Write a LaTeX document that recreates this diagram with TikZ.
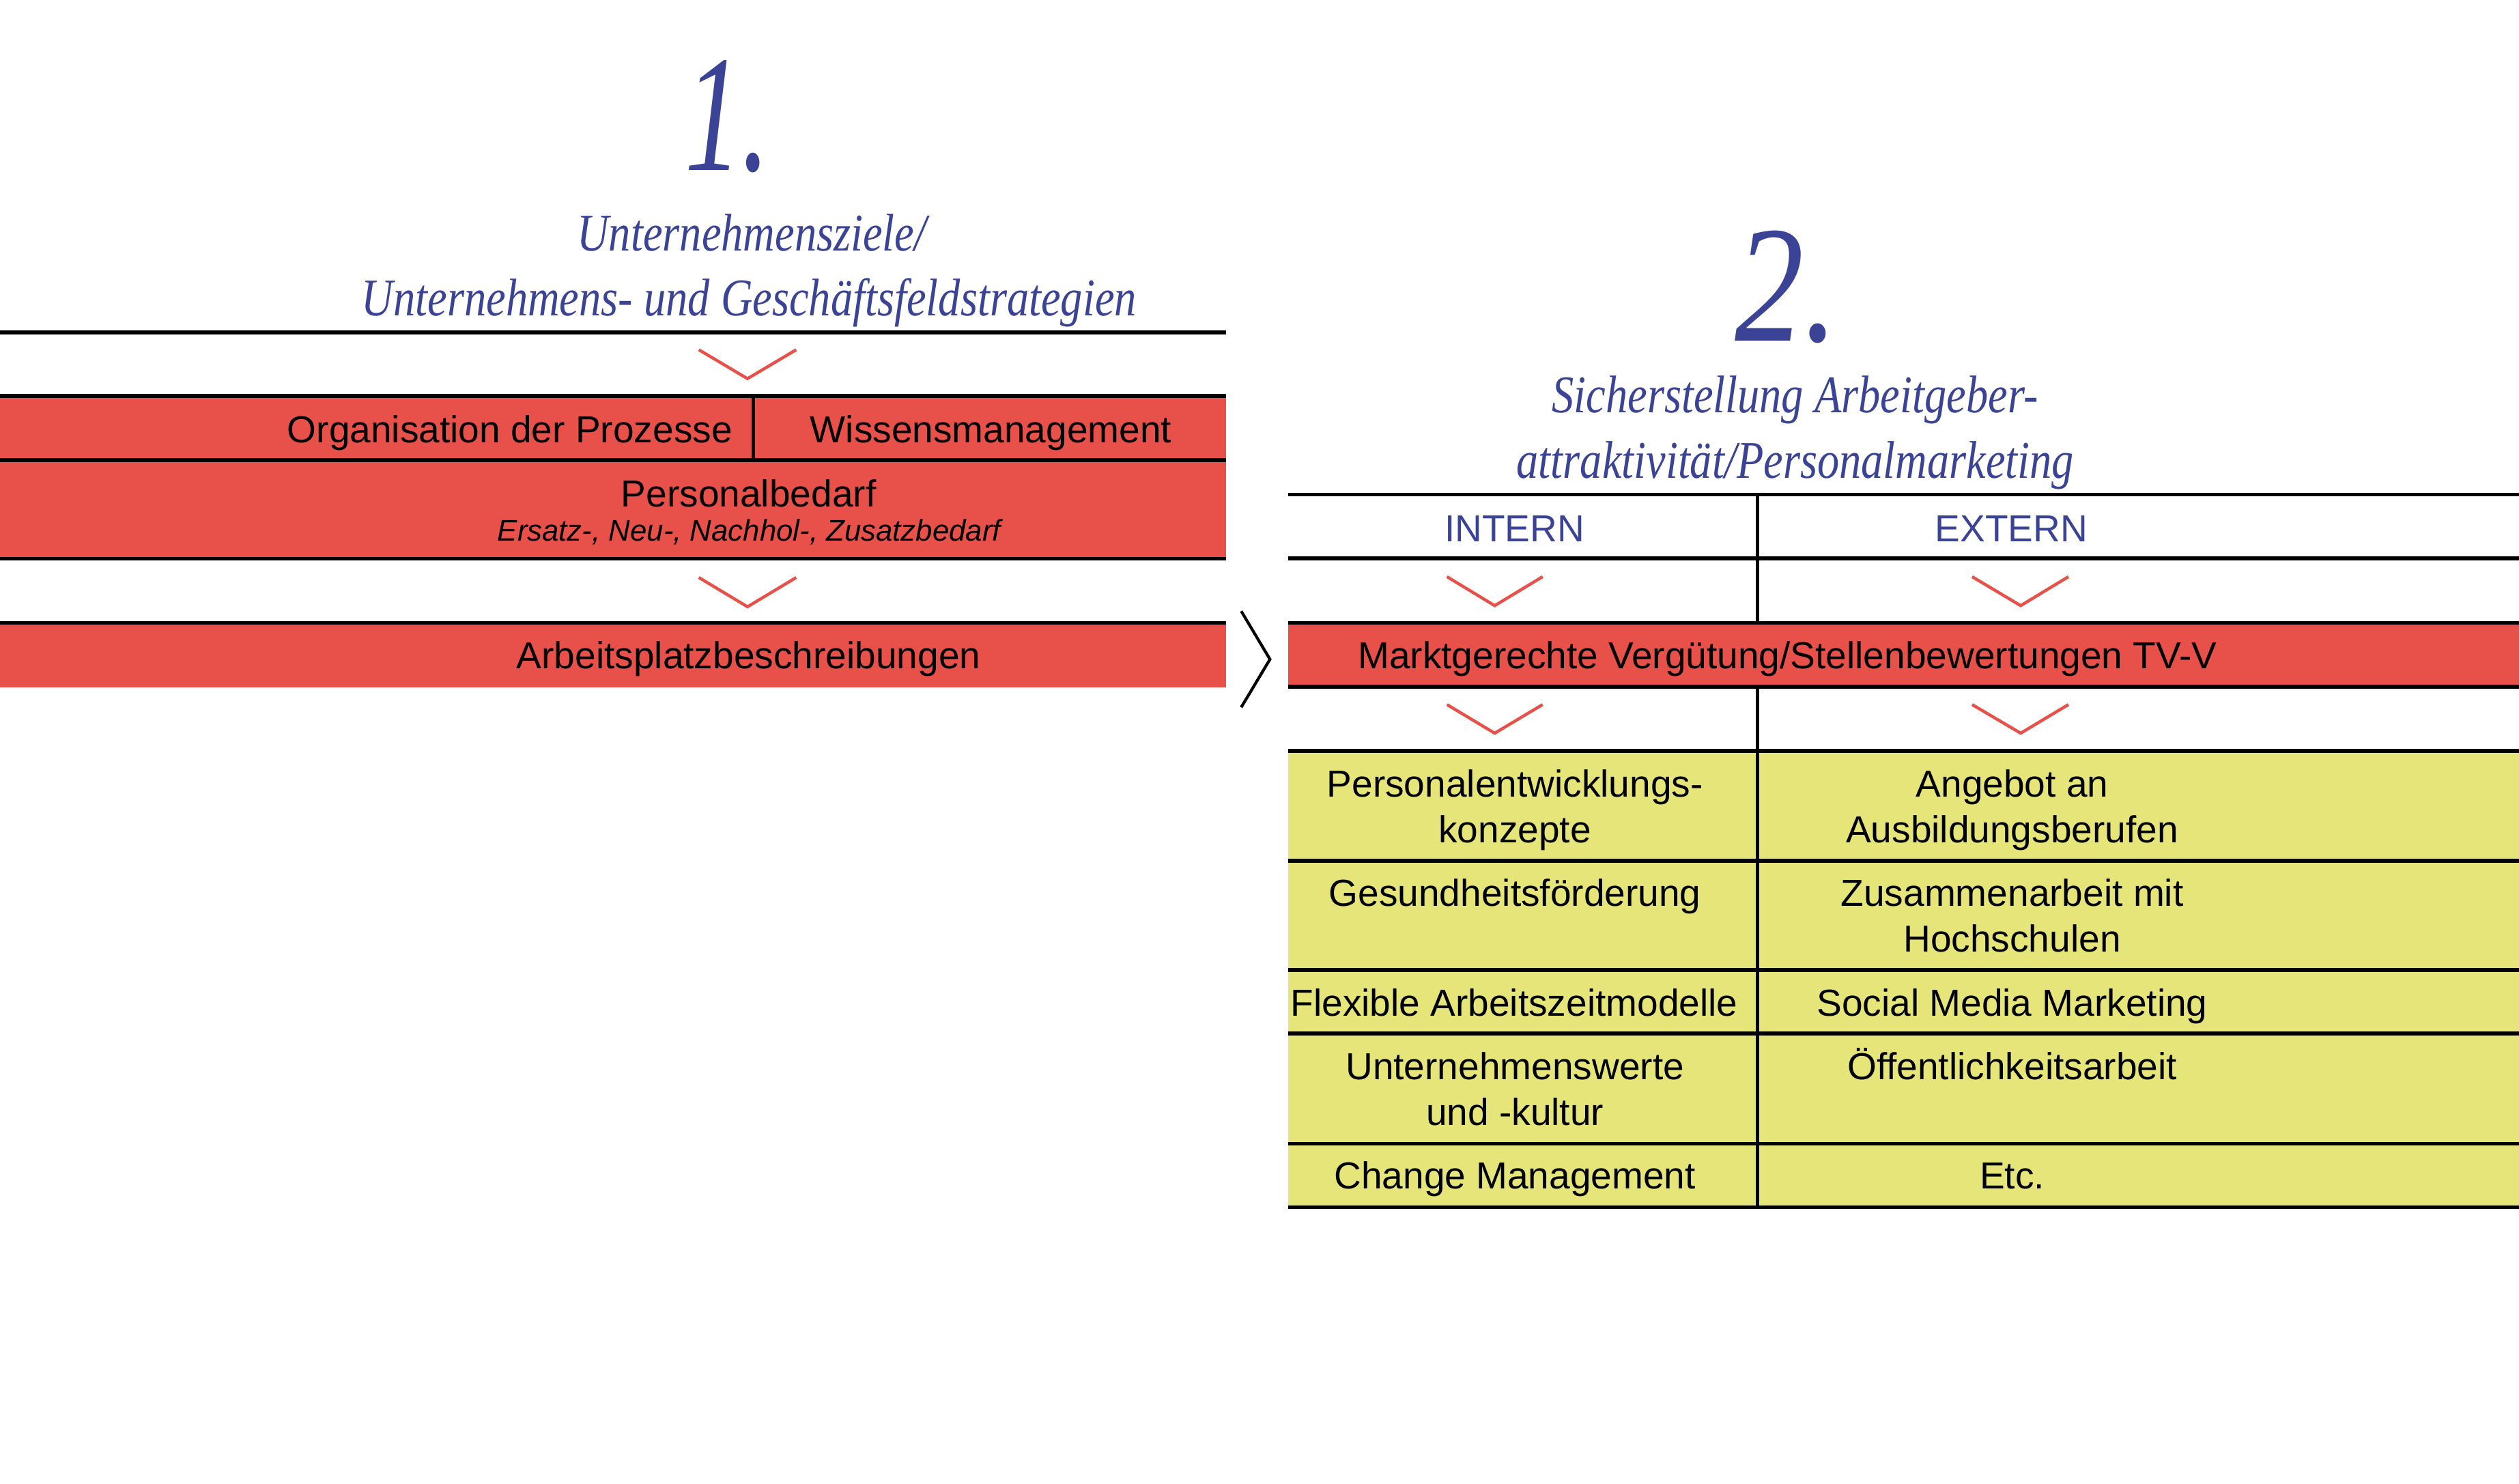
\documentclass[tikz,border=0pt]{standalone}
\usepackage{fontspec}
\setmainfont{Liberation Sans}
\newfontfamily\headfont[FakeStretch=0.83]{Liberation Serif}
\newfontfamily\narrowheadfont[FakeStretch=0.68]{Liberation Serif}
\definecolor{bandred}{RGB}{232,81,73}
\definecolor{bandyellow}{RGB}{230,229,122}
\definecolor{headblue}{RGB}{58,67,149}
\newcommand{\cellfont}{\fontsize{11.7}{14.25}\selectfont}
\newcommand{\subfont}{\fontsize{9.3}{11}\selectfont\itshape}
\newcommand{\headlinefont}{\headfont\itshape\fontsize{16.5}{20}\selectfont}
\newcommand{\numfont}{\headfont\itshape\fontsize{51.8}{60}\selectfont}
\newcommand{\numfontnarrow}{\narrowheadfont\itshape\fontsize{51.8}{60}\selectfont}
\newcommand{\twolines}[2]{\begin{tabular}[t]{@{}c@{}}#1\\#2\end{tabular}}

\begin{document}
\begin{tikzpicture}[x=0.5pt,y=-0.5pt,
  rule/.style={line width=1.2pt,draw=black},
  divider/.style={line width=1.05pt,draw=black},
  chev/.style={draw=bandred,line width=0.95pt},
  bigchev/.style={draw=black,line width=0.9pt},
  txt/.style={inner sep=0pt,anchor=base,font=\cellfont,text=black},
  bluetxt/.style={txt,text=headblue},
  subtxt/.style={inner sep=0pt,anchor=base,font=\subfont,text=black},
  headtxt/.style={inner sep=0pt,anchor=base,font=\headlinefont,text=headblue},
  numtxt/.style={inner sep=0pt,anchor=base,font=\numfont,text=headblue}]

\useasboundingbox (0,0) rectangle (1568,923.4);

% ---------- left block ----------
\node[numtxt,font=\numfontnarrow] (n1) at (453,105.9) {1.};
\node[headtxt] (h1a) at (468,156) {Unternehmensziele/};
\node[headtxt] (h1b) at (466.3,196.4) {Unternehmens- und Geschäftsfeldstrategien};

\fill[bandred] (0,246.5) rectangle (763,347.8);
\fill[bandred] (0,387.7) rectangle (763,427.8);
\draw[rule] (0,207) -- (763,207);
\draw[rule] (0,246.5) -- (763,246.5);
\draw[rule] (0,286.3) -- (763,286.3);
\draw[rule] (0,347.8) -- (763,347.8);
\draw[rule] (0,387.7) -- (763,387.7);
\draw[divider] (468.8,246.5) -- (468.8,286.3);

\draw[chev] (435,217.7) -- (465.3,235.7) -- (495.6,217.7);
\draw[chev] (435,359.5) -- (465.3,377.7) -- (495.6,359.5);

\node[txt,anchor=base east] (org) at (456.3,275.5) {Organisation der Prozesse};
\node[txt] (wis) at (616.8,275.5) {Wissensmanagement};
\node[txt] (pb) at (466,315.4) {Personalbedarf};
\node[subtxt] (pbs) at (466.3,336.8) {Ersatz-, Neu-, Nachhol-, Zusatzbedarf};
\node[txt] (apb) at (466,416.2) {Arbeitsplatzbeschreibungen};

\draw[bigchev] (772.6,380.4) -- (790.5,410.4) -- (772.6,440.3);

% ---------- right block ----------
\node[numtxt] (n2) at (1112,212.2) {2.};
\node[headtxt] (h2a) at (1117.5,257) {Sicherstellung Arbeitgeber-};
\node[headtxt] (h2b) at (1117.5,297.5) {attraktivität/Personalmarketing};

\fill[bandred] (802,387.8) rectangle (1568,427.6);
\fill[bandyellow] (802,467.4) rectangle (1568,751.5);
\foreach \yy in {307.8,347.5,387.8,427.6,467.4,535.7,603.8,643.4,711.9,751.5}
  \draw[rule] (802,\yy) -- (1568,\yy);
\draw[divider] (1094,307.8) -- (1094,387.8);
\draw[divider] (1094,427.6) -- (1094,751.5);

\node[bluetxt] (intern) at (942.7,337.3) {INTERN};
\node[bluetxt] (extern) at (1252,337.3) {EXTERN};

\draw[chev] (900.7,359) -- (930.4,377) -- (960.2,359);
\draw[chev] (1227.6,359) -- (1257.8,377) -- (1287.5,359);
\draw[chev] (900.7,438.6) -- (930.4,456.4) -- (960.2,438.6);
\draw[chev] (1227.6,438.6) -- (1257.8,456.4) -- (1287.5,438.6);

\node[txt] (mv) at (1112.6,416) {Marktgerechte Vergütung/Stellenbewertungen TV-V};

\node[txt] (r1l) at (943,496) {\twolines{Personalentwicklungs-}{konzepte}};
\node[txt] (r1r) at (1252.5,496) {\twolines{Angebot an}{Ausbildungsberufen}};
\node[txt] (r2l) at (943,564) {Gesundheitsförderung};
\node[txt] (r2r) at (1252.5,564) {\twolines{Zusammenarbeit mit}{Hochschulen}};
\node[txt] (r3l) at (942.5,632.3) {Flexible Arbeitszeitmodelle};
\node[txt] (r3r) at (1252.5,632.3) {Social Media Marketing};
\node[txt] (r4l) at (943,672) {\twolines{Unternehmenswerte}{und -kultur}};
\node[txt] (r4r) at (1252.5,672) {Öffentlichkeitsarbeit};
\node[txt] (r5l) at (943,740) {Change Management};
\node[txt] (r5r) at (1252.5,740) {Etc.};
\end{tikzpicture}
\end{document}
